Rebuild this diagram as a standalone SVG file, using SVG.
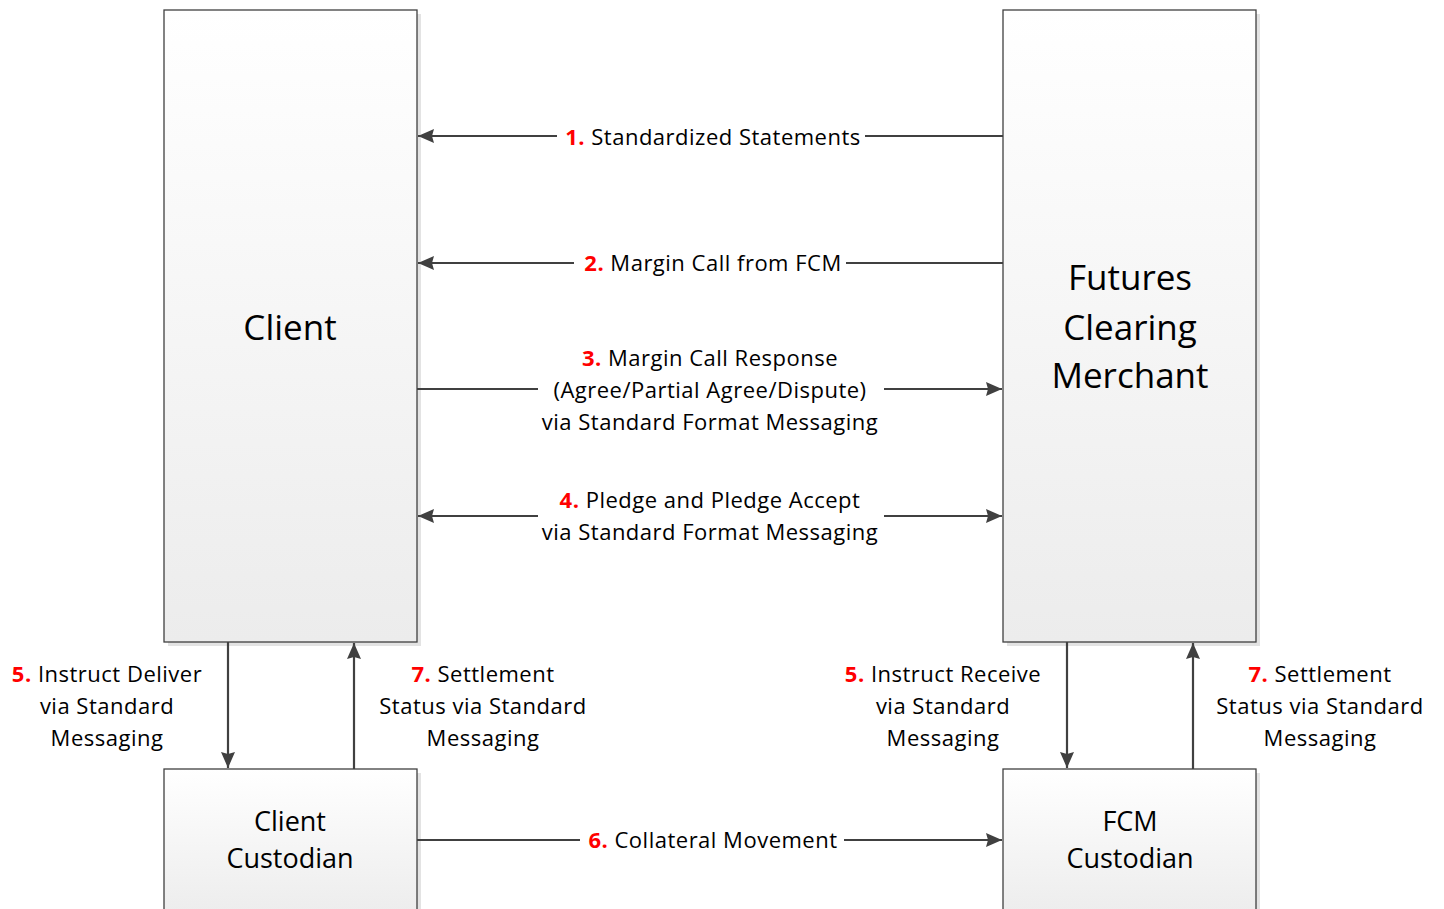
<svg xmlns="http://www.w3.org/2000/svg" width="1444" height="909" viewBox="0 0 1444 909">
<defs>
<linearGradient id="g" x1="0" y1="0" x2="0" y2="1">
<stop offset="0" stop-color="#ffffff"/>
<stop offset="1" stop-color="#ececec"/>
</linearGradient>
<marker id="ah" viewBox="0 0 16 14" refX="16" refY="7" markerWidth="16" markerHeight="14" markerUnits="userSpaceOnUse" orient="auto-start-reverse">
<path d="M0,0 L16,7 L0,14 L2,7 Z" fill="#404040"/>
</marker>
</defs>
<style>
.box{fill:url(#g);stroke:#404040;stroke-width:1.3}
.sh{fill:#e3e3e3}
.ln{stroke:#404040;stroke-width:2.2;fill:none}
text{font-family:"Open Sans","Noto Sans",sans-serif;fill:#000}
.lb{font-size:22px;letter-spacing:0.5px;text-anchor:middle}
.big{font-size:35px;text-anchor:middle}
.mid{font-size:27px;text-anchor:middle}
.n{fill:#ff0000;font-weight:bold}
.bg{fill:#ffffff}
</style>
<g id="client">
<rect class="sh" x="168" y="14" width="253" height="632"/>
<rect class="box" x="164" y="10" width="253" height="632"/>
<text class="big" x="290" y="340">Client</text>
</g>
<g id="fcm">
<rect class="sh" x="1007" y="14" width="253" height="632"/>
<rect class="box" x="1003" y="10" width="253" height="632"/>
<text class="big" x="1130" y="290">Futures</text>
<text class="big" x="1130" y="340">Clearing</text>
<text class="big" x="1130" y="388">Merchant</text>
</g>
<g id="client-custodian">
<rect class="sh" x="168" y="773" width="253" height="150"/>
<rect class="box" x="164" y="769" width="253" height="150"/>
<text class="mid" x="290" y="831">Client</text>
<text class="mid" x="290" y="868">Custodian</text>
</g>
<g id="fcm-custodian">
<rect class="sh" x="1007" y="773" width="253" height="150"/>
<rect class="box" x="1003" y="769" width="253" height="150"/>
<text class="mid" x="1130" y="831">FCM</text>
<text class="mid" x="1130" y="868">Custodian</text>
</g>
<g id="connectors">
<line class="ln" x1="1003" y1="136" x2="418" y2="136" marker-end="url(#ah)"/>
<line class="ln" x1="1003" y1="263" x2="418" y2="263" marker-end="url(#ah)"/>
<line class="ln" x1="417" y1="389" x2="1002" y2="389" marker-end="url(#ah)"/>
<line class="ln" x1="418" y1="516" x2="1002" y2="516" marker-start="url(#ah)" marker-end="url(#ah)"/>
<line class="ln" x1="228" y1="642" x2="228" y2="768" marker-end="url(#ah)"/>
<line class="ln" x1="354" y1="769" x2="354" y2="643" marker-end="url(#ah)"/>
<line class="ln" x1="1067" y1="642" x2="1067" y2="768" marker-end="url(#ah)"/>
<line class="ln" x1="1193" y1="769" x2="1193" y2="643" marker-end="url(#ah)"/>
<line class="ln" x1="417" y1="840" x2="1002" y2="840" marker-end="url(#ah)"/>
</g>
<g id="labels">
<rect class="bg" x="557" y="122" width="308" height="28"/>
<text class="lb" x="713" y="145"><tspan class="n">1.</tspan> Standardized Statements</text>
<rect class="bg" x="574" y="249" width="272" height="28"/>
<text class="lb" x="713" y="271"><tspan class="n">2.</tspan> Margin Call from FCM</text>
<rect class="bg" x="538" y="342" width="346" height="96"/>
<text class="lb" x="710" y="366"><tspan class="n">3.</tspan> Margin Call Response</text>
<text class="lb" x="710" y="398">(Agree/Partial Agree/Dispute)</text>
<text class="lb" x="710" y="430">via Standard Format Messaging</text>
<rect class="bg" x="538" y="484" width="346" height="64"/>
<text class="lb" x="710" y="508"><tspan class="n">4.</tspan> Pledge and Pledge Accept</text>
<text class="lb" x="710" y="540">via Standard Format Messaging</text>
<rect class="bg" x="580" y="826" width="264" height="28"/>
<text class="lb" x="713" y="848"><tspan class="n">6.</tspan> Collateral Movement</text>
<text class="lb" x="107" y="682"><tspan class="n">5.</tspan> Instruct Deliver</text>
<text class="lb" x="107" y="714">via Standard</text>
<text class="lb" x="107" y="746">Messaging</text>
<text class="lb" x="483" y="682"><tspan class="n">7.</tspan> Settlement</text>
<text class="lb" x="483" y="714">Status via Standard</text>
<text class="lb" x="483" y="746">Messaging</text>
<text class="lb" x="943" y="682"><tspan class="n">5.</tspan> Instruct Receive</text>
<text class="lb" x="943" y="714">via Standard</text>
<text class="lb" x="943" y="746">Messaging</text>
<text class="lb" x="1320" y="682"><tspan class="n">7.</tspan> Settlement</text>
<text class="lb" x="1320" y="714">Status via Standard</text>
<text class="lb" x="1320" y="746">Messaging</text>
</g>
</svg>
